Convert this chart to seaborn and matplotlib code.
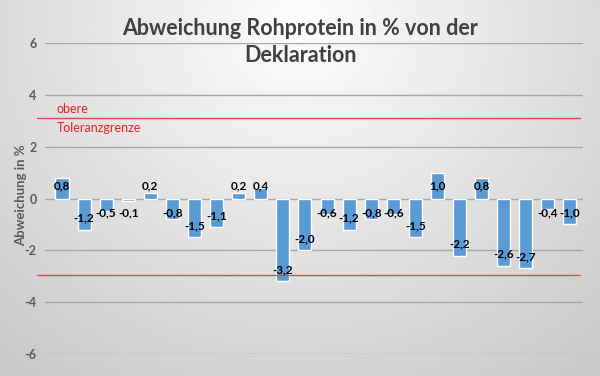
import numpy as np
import matplotlib
matplotlib.use("Agg")
import matplotlib.pyplot as plt
import pandas as pd
import seaborn as sns

# values
samples = [str(i) for i in range(1, 25)]
deviation = [0.8, -1.2, -0.5, -0.1, 0.2, -0.8, -1.5, -1.1, 0.2, 0.4, -3.2, -2.0,
             -0.6, -1.2, -0.8, -0.6, -1.5, 1.0, -2.2, 0.8, -2.6, -2.7, -0.4, -1.0]
upper_limit = 3.1
lower_limit = -2.95
y_ticks = [-6, -4, -2, 0, 2, 4, 6]

df = pd.DataFrame({"probe": samples, "abweichung": deviation})

sns.set_style("white")
plt.rcParams['font.family'] = ['Lato', 'DejaVu Sans']

fig = plt.figure(figsize=(6.0, 3.76), dpi=100)

# radial grey background like the Excel chart area
bg = fig.add_axes([0, 0, 1, 1], zorder=-10)
yy, xx = np.mgrid[0:376, 0:600]
r = np.sqrt(((xx - 300) / 450.0) ** 2 + ((yy - 30) / 420.0) ** 2)
shade = np.clip(0.99 - 0.2 * r, 0.78, 0.99)
bg.imshow(shade, cmap="gray", vmin=0, vmax=1, aspect="auto", interpolation="bilinear")
bg.axis("off")

ax = fig.add_axes([45 / 600, 22 / 376, 538 / 600, 311 / 376])
ax.patch.set_alpha(0)

sns.barplot(data=df, x="probe", y="abweichung", color="#5B9BD5", saturation=1,
            width=0.59, ax=ax, zorder=3)

ax.set_xlim(-0.77, 23.59)
ax.set_ylim(-6, 6)
ax.set_yticks(y_ticks)
ax.set_yticklabels([str(t) for t in y_ticks], fontweight="bold", color="#595959", fontsize=9)
ax.set_xticks([])
ax.set_xlabel("")
ax.set_ylabel("Abweichung in %", fontweight="bold", color="#595959", fontsize=9.5)
ax.yaxis.set_label_coords(-0.033, 0.511)
ax.tick_params(axis="y", length=0, pad=6)
for s in ax.spines.values():
    s.set_visible(False)
ax.grid(axis="y", color="#a6a6a6", linewidth=1, zorder=0)

# tolerance limits
for lim in (upper_limit, lower_limit):
    ax.axhline(lim, xmin=-0.015, xmax=0.994, color="#e8474a", linewidth=1, clip_on=False, zorder=4)
ax.text(-0.23, upper_limit + 0.35, "obere", color="#e02020", fontsize=9, va="center", ha="left")
ax.text(-0.23, upper_limit - 0.38, "Toleranzgrenze", color="#e02020", fontsize=9, va="center", ha="left")

# data labels at the inside end of each bar
for i, v in enumerate(deviation):
    if v < 0:
        ly = min(v + 0.45, -0.54)
    else:
        ly = 0.47
    ax.text(i, ly, f"{v:.1f}".replace(".", ","), ha="center", va="center",
            fontsize=8.5, fontweight="bold", color="black", zorder=5)

fig.text(0.5, 1 - 42 / 376, "Abweichung Rohprotein in % von der\nDeklaration",
         ha="center", va="center", fontsize=15.5, fontweight="bold", color="#404040",
         linespacing=1.3)

fig.savefig("out.png", dpi=100)
